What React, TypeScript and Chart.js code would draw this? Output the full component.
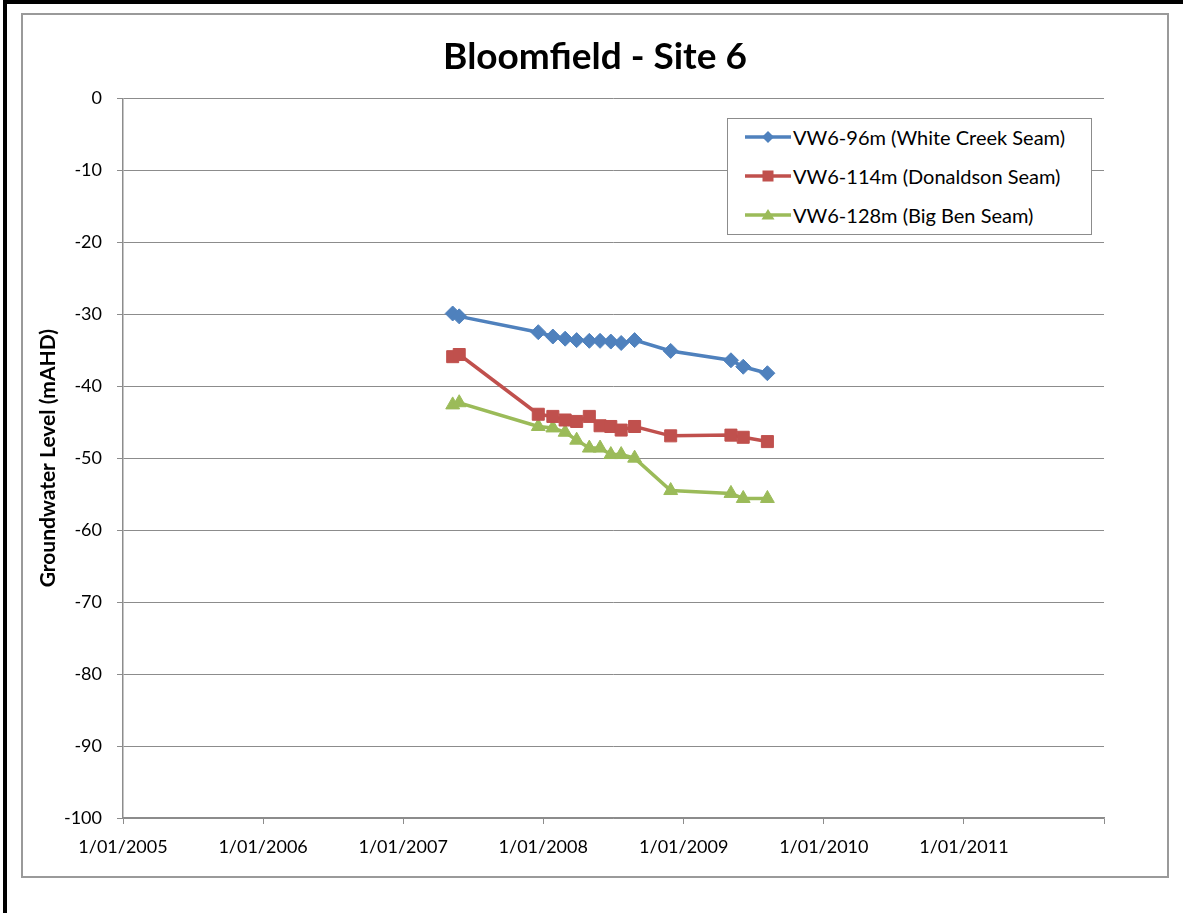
import React, { useEffect, useRef } from 'react';
import { Chart, registerables } from 'chart.js';

Chart.register(...registerables);

const chartTitle = 'Bloomfield - Site 6';
const yAxisTitle = 'Groundwater Level (mAHD)';

const sampleDates = [
  '2007-05-10', '2007-05-27', '2007-12-19', '2008-01-26', '2008-02-27',
  '2008-03-28', '2008-04-30', '2008-05-28', '2008-06-25', '2008-07-22',
  '2008-08-26', '2008-11-28', '2009-05-04', '2009-06-05', '2009-08-07',
];
const whiteCreek = [-29.9, -30.3, -32.5, -33.1, -33.4, -33.6, -33.7, -33.7, -33.8, -34.0, -33.6, -35.1, -36.4, -37.3, -38.2];
const donaldson = [-35.9, -35.6, -43.9, -44.2, -44.7, -44.9, -44.2, -45.5, -45.6, -46.1, -45.6, -46.9, -46.8, -47.1, -47.7];
const bigBen = [-42.6, -42.3, -45.6, -45.8, -46.4, -47.5, -48.6, -48.6, -49.5, -49.5, -50.0, -54.5, -54.9, -55.6, -55.6];

const seriesNames = ['VW6-96m (White Creek Seam)', 'VW6-114m (Donaldson Seam)', 'VW6-128m (Big Ben Seam)'];
const seriesColors = ['#4F81BD', '#C0504D', '#9BBB59'];
const seriesMarkers = ['rectRot', 'rect', 'triangle'];
const seriesValues = [whiteCreek, donaldson, bigBen];

const xTickYears = [2005, 2006, 2007, 2008, 2009, 2010, 2011, 2012];
const xLabelledYears = [2005, 2006, 2007, 2008, 2009, 2010, 2011];
const yTicks = [0, -10, -20, -30, -40, -50, -60, -70, -80, -90, -100];

const FONT = 'Lato, "Open Sans", sans-serif';
const GRID = '#8c8c8c';

function LegendMarker({ kind, color }: { kind: string; color: string }) {
  let shape: React.ReactNode = null;
  if (kind === 'rectRot') shape = <polygon points="23,2 29,8 23,14 17,8" fill={color} />;
  else if (kind === 'rect') shape = <rect x={17.5} y={2.5} width={11} height={11} fill={color} />;
  else shape = <polygon points="23,2 29.5,12.5 16.5,12.5" fill={color} />;
  return (
    <svg width={46} height={16} style={{ display: 'block', marginRight: 2 }}>
      <line x1={0} y1={8} x2={46} y2={8} stroke={color} strokeWidth={3.5} />
      {shape}
    </svg>
  );
}

export default function App() {
  const canvasRef = useRef<HTMLCanvasElement | null>(null);

  useEffect(() => {
    const canvas = canvasRef.current;
    if (!canvas) return;
    const datasets = seriesNames.map((name, i) => ({
      label: name,
      data: sampleDates.map((d, j) => ({ x: Date.parse(d), y: seriesValues[i][j] })),
      borderColor: seriesColors[i],
      backgroundColor: seriesColors[i],
      pointBackgroundColor: seriesColors[i],
      pointBorderColor: seriesColors[i],
      pointStyle: seriesMarkers[i] as any,
      pointRadius: i === 0 ? 7.5 : i === 1 ? 8.5 : 8,
      pointBorderWidth: 1,
      borderWidth: 3.5,
      tension: 0,
      fill: false,
    }));

    const chart = new Chart(canvas, {
      type: 'line',
      data: { datasets },
      options: {
        animation: false,
        responsive: false,
        maintainAspectRatio: false,
        layout: { padding: 0 },
        plugins: {
          legend: { display: false },
          tooltip: { enabled: false },
          title: {
            display: true,
            text: chartTitle,
            color: '#000',
            font: { family: FONT, size: 37, weight: 'bold' },
            padding: { top: 19.8, bottom: 19.1 },
          },
        },
        scales: {
          x: {
            type: 'linear',
            min: Date.UTC(2005, 0, 1),
            max: Date.UTC(2012, 0, 1),
            afterBuildTicks: (scale: any) => {
              scale.ticks = xTickYears.map((y) => ({ value: Date.UTC(y, 0, 1) }));
            },
            afterFit: (scale: any) => {
              scale.height = 58;
            },
            ticks: {
              autoSkip: false,
              maxRotation: 0,
              minRotation: 0,
              padding: 12,
              color: '#000',
              font: { family: FONT, size: 18 },
              callback: (value: any) => {
                const y = new Date(Number(value)).getUTCFullYear();
                return xLabelledYears.includes(y) ? `1/01/${y}` : '';
              },
            },
            grid: {
              drawOnChartArea: false,
              drawTicks: true,
              tickLength: 6,
              color: GRID,
              lineWidth: 1,
            },
            border: { display: true, color: GRID, width: 1.5 },
          },
          y: {
            type: 'linear',
            position: 'left',
            min: -100,
            max: 0,
            afterBuildTicks: (scale: any) => {
              scale.ticks = yTicks.map((v) => ({ value: v }));
            },
            afterFit: (scale: any) => {
              scale.width = 100;
            },
            ticks: {
              padding: 15,
              color: '#000',
              font: { family: FONT, size: 18 },
              callback: (value: any) => String(value),
            },
            grid: {
              drawOnChartArea: true,
              drawTicks: true,
              tickLength: 6,
              color: GRID,
              lineWidth: 1,
            },
            border: { display: true, color: GRID, width: 1.5 },
            title: {
              display: true,
              text: yAxisTitle,
              color: '#000',
              font: { family: FONT, size: 21, weight: 'bold' },
              padding: { top: 12.4, bottom: 0 },
            },
          },
          rightSpace: {
            type: 'linear',
            position: 'right',
            display: true,
            min: -100,
            max: 0,
            afterFit: (scale: any) => {
              scale.width = 63;
            },
            ticks: { display: false },
            grid: { display: false, drawOnChartArea: false },
            border: { display: false },
          },
        },
      },
    } as any);

    return () => chart.destroy();
  }, []);

  return (
    <div style={{ position: 'absolute', left: 0, top: 0, width: 1183, height: 913, background: '#fff', overflow: 'hidden' }}>
      <div
        style={{
          position: 'absolute', left: 3, top: 0, width: 1180, height: 913,
          borderTop: '4px solid #000', borderLeft: '4px solid #000', boxSizing: 'border-box',
        }}
      />
      <div
        style={{
          position: 'absolute', left: 21, top: 13, width: 1148, height: 865,
          border: '2px solid #9a9a9a', boxSizing: 'border-box',
        }}
      />
      <canvas
        ref={canvasRef}
        width={1144}
        height={861}
        style={{ position: 'absolute', left: 23, top: 15, width: 1144, height: 861 }}
      />
      <div
        style={{
          position: 'absolute', left: 727, top: 118, width: 365, height: 117,
          border: '1px solid #8c8c8c', background: '#fff', boxSizing: 'border-box',
          fontFamily: FONT, fontSize: 20, color: '#000', paddingTop: 0, paddingLeft: 17,
        }}
      >
        {seriesNames.map((name, i) => (
          <div key={name} style={{ display: 'flex', alignItems: 'center', height: 39, marginTop: i === 0 ? -1.5 : 0 }}>
            <LegendMarker kind={seriesMarkers[i]} color={seriesColors[i]} />
            <span style={{ whiteSpace: 'nowrap' }}>{name}</span>
          </div>
        ))}
      </div>
    </div>
  );
}
